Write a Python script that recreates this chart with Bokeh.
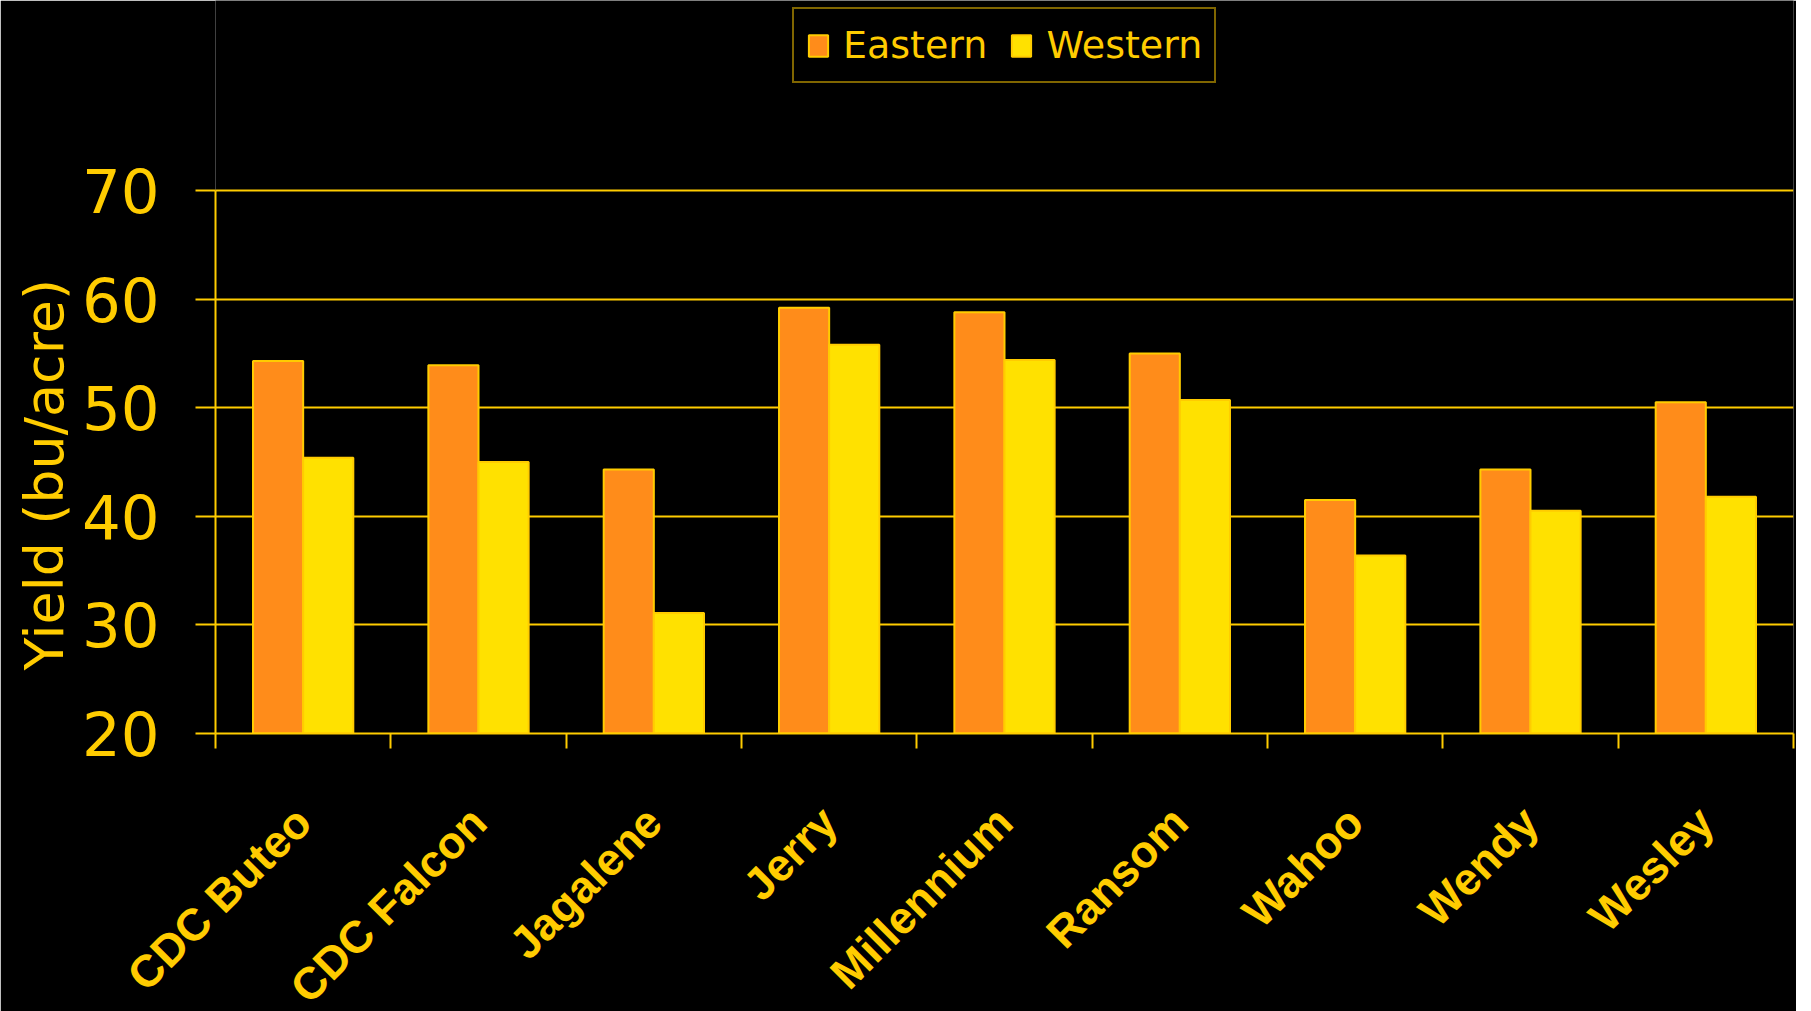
import math
from bokeh.plotting import figure
from bokeh.models import (Range1d, LinearAxis, FixedTicker, Legend, LegendItem, ColumnDataSource, Title)
from bokeh.transform import dodge
from bokeh.embed import file_html
from bokeh.resources import INLINE

categories = ["CDC Buteo", "CDC Falcon", "Jagalene", "Jerry", "Millennium",
              "Ransom", "Wahoo", "Wendy", "Wesley"]
eastern = [54.3, 53.9, 44.3, 59.2, 58.8, 55.0, 41.5, 44.3, 50.5]
western = [45.4, 45.0, 31.1, 55.8, 54.4, 50.7, 36.4, 40.5, 41.8]
y_ticks = [20, 30, 40, 50, 60, 70]
series_names = ["Eastern", "Western"]
y_title = "Yield (bu/acre)"

GOLD = "#FFCC00"
ORANGE = "#FF8C1A"
YELLOW = "#FFE100"
BG = "#000000"

n = len(categories)
centers = [i + 0.5 for i in range(n)]
edge_ticks = list(range(n + 1))
src = ColumnDataSource(dict(xc=centers, cat=categories, eastern=eastern, western=western,
                            base=[y_ticks[0]] * n))

# frame is extended upward (blank area) so the legend can sit inside it
FRAME_H = 733
AXIS_H = 543
y_top = y_ticks[0] + (y_ticks[-1] - y_ticks[0]) * FRAME_H / AXIS_H

p = figure(x_range=Range1d(0, n), y_range=Range1d(y_ticks[0], y_top),
           frame_width=1578, frame_height=FRAME_H,
           min_border_left=215, min_border_right=3, min_border_top=0, min_border_bottom=270,
           x_axis_location=None, output_backend="svg", toolbar_location=None,
           background_fill_color=BG, border_fill_color=BG)

p.outline_line_color = None

bw = 0.286
r1 = p.vbar(x=dodge('xc', -bw / 2), top='eastern', bottom='base', width=bw,
            source=src, fill_color=ORANGE, line_color=GOLD, line_width=2)
r2 = p.vbar(x=dodge('xc', bw / 2), top='western', bottom='base', width=bw,
            source=src, fill_color=YELLOW, line_color=GOLD, line_width=2)

# y axis
ya = p.yaxis[0]
ya.ticker = FixedTicker(ticks=y_ticks)
ya.bounds = (y_ticks[0], y_ticks[-1])
ya.major_tick_out = 20
ya.major_tick_in = 0
ya.minor_tick_line_color = None
ya.major_tick_line_color = GOLD
ya.major_tick_line_width = 2
ya.axis_line_color = GOLD
ya.axis_line_width = 2
ya.major_label_text_font = "DejaVu Sans"
ya.major_label_text_font_size = "61px"
ya.major_label_text_color = GOLD
ya.major_label_standoff = 36

# y title placed next to the axis, aligned with the 20..70 span
ytitle = Title(text=y_title, align="left", offset=63, standoff=6,
               text_font="DejaVu Sans", text_font_size="54px", text_font_style="normal",
               text_color=GOLD)
p.add_layout(ytitle, "left")

p.ygrid.grid_line_color = GOLD
p.ygrid.grid_line_width = 2
p.ygrid.ticker = FixedTicker(ticks=y_ticks)
# right-hand frame edge
p.xgrid.ticker = FixedTicker(ticks=[n])
p.xgrid.bounds = (y_ticks[0], y_ticks[-1])
p.xgrid.grid_line_color = GOLD
p.xgrid.grid_line_width = 2

# category boundary ticks
edges = LinearAxis(ticker=FixedTicker(ticks=edge_ticks),
                   major_label_overrides={t: "" for t in edge_ticks},
                   major_tick_out=15, major_tick_in=0, minor_tick_line_color=None,
                   major_tick_line_color=GOLD, major_tick_line_width=2,
                   axis_line_color=GOLD, axis_line_width=2,
                   major_label_text_font_size="1px", major_label_standoff=0)
p.add_layout(edges, "below")

cat_axis = LinearAxis(ticker=FixedTicker(ticks=centers),
                      major_label_overrides={c: lab for c, lab in zip(centers, categories)},
                      major_tick_line_color=None, minor_tick_line_color=None,
                      axis_line_color=None, major_label_orientation=math.pi / 4,
                      major_label_standoff=60,
                      major_label_text_font="Liberation Sans",
                      major_label_text_font_style="bold",
                      major_label_text_font_size="45px",
                      major_label_text_color=GOLD)
p.add_layout(cat_axis, "below")

legend = Legend(items=[LegendItem(label=series_names[0], renderers=[r1]),
                       LegendItem(label=series_names[1], renderers=[r2])],
                orientation="horizontal", location=(577, 650),
                label_text_font="DejaVu Sans", label_text_font_size="38px",
                label_text_color=GOLD, border_line_color=GOLD, border_line_width=2,
                background_fill_color=BG, background_fill_alpha=1.0,
                padding=12, spacing=22, label_standoff=13, margin=0,
                glyph_width=24, glyph_height=27, label_height=48)
p.add_layout(legend)

open("out.html", "w").write(file_html(p, INLINE))
